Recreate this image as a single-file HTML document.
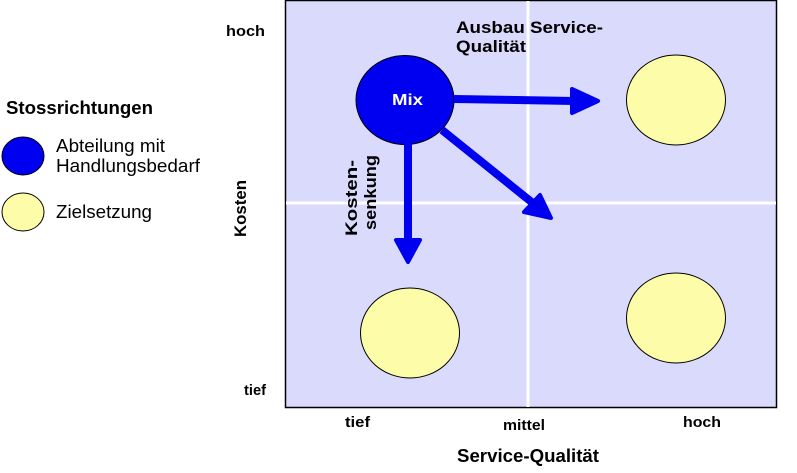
<!DOCTYPE html>
<html><head><meta charset="utf-8"><style>
html,body{margin:0;padding:0;background:#fff;width:797px;height:473px;overflow:hidden}
svg{display:block}
text{font-family:"Liberation Sans",Arial,sans-serif;font-weight:bold;fill:#000}
</style></head><body>
<svg width="797" height="473" viewBox="0 0 797 473">
<rect x="285.5" y="0.5" width="491" height="407" fill="#dadafc" stroke="#000" stroke-width="1.5"/>
<line x1="528" y1="1" x2="528" y2="407" stroke="#fff" stroke-width="3"/>
<line x1="286" y1="203" x2="776" y2="203" stroke="#fff" stroke-width="3"/>
<ellipse cx="676" cy="100" rx="49.5" ry="45" fill="#fdfca8" stroke="#000"/>
<ellipse cx="410" cy="333" rx="49.5" ry="45" fill="#fdfca8" stroke="#000"/>
<ellipse cx="676" cy="318" rx="49.5" ry="45" fill="#fdfca8" stroke="#000"/>
<ellipse cx="405" cy="100" rx="49" ry="44.5" fill="#0000f0" stroke="#000"/>
<text x="392" y="105" font-size="16" textLength="31" lengthAdjust="spacingAndGlyphs" style="fill:#fff">Mix</text>
<g fill="#0000f0" stroke="#0000f0" stroke-linejoin="round">
<line x1="454" y1="99" x2="575" y2="101" stroke-width="8"/>
<polygon points="572,89 598,101 572,113" stroke-width="4"/>
<line x1="408" y1="140" x2="408" y2="242" stroke-width="8"/>
<polygon points="396,240 420,240 408,262" stroke-width="4"/>
<line x1="442" y1="130" x2="534" y2="204" stroke-width="8"/>
<polygon points="524,212 540,195 551,218" stroke-width="4"/>
</g>
<text x="456" y="33" font-size="17" textLength="147" lengthAdjust="spacingAndGlyphs">Ausbau Service-</text>
<text x="456" y="52" font-size="17" textLength="70" lengthAdjust="spacingAndGlyphs">Qualität</text>
<text transform="translate(357,236) rotate(-90)" font-size="17" textLength="76" lengthAdjust="spacingAndGlyphs">Kosten-</text>
<text transform="translate(376,230) rotate(-90)" font-size="17" textLength="75" lengthAdjust="spacingAndGlyphs">senkung</text>
<text x="226" y="36" font-size="15" textLength="39" lengthAdjust="spacingAndGlyphs">hoch</text>
<text x="244" y="395" font-size="15" textLength="22" lengthAdjust="spacingAndGlyphs">tief</text>
<text transform="translate(246,237) rotate(-90)" font-size="17" textLength="57" lengthAdjust="spacingAndGlyphs">Kosten</text>
<text x="345" y="427" font-size="15" textLength="25" lengthAdjust="spacingAndGlyphs">tief</text>
<text x="503" y="430" font-size="15" textLength="42" lengthAdjust="spacingAndGlyphs">mittel</text>
<text x="683" y="427" font-size="15" textLength="38" lengthAdjust="spacingAndGlyphs">hoch</text>
<text x="457" y="462" font-size="18" textLength="142" lengthAdjust="spacingAndGlyphs">Service-Qualität</text>
<text x="6" y="114" font-size="18" textLength="147" lengthAdjust="spacingAndGlyphs">Stossrichtungen</text>
<ellipse cx="23" cy="156" rx="21" ry="19" fill="#0000f0" stroke="#000"/>
<ellipse cx="23" cy="212" rx="21" ry="19" fill="#fdfca8" stroke="#000"/>
<text x="56" y="152" font-size="18" textLength="109" lengthAdjust="spacingAndGlyphs" style="font-weight:normal">Abteilung mit</text>
<text x="56" y="172" font-size="18" textLength="144" lengthAdjust="spacingAndGlyphs" style="font-weight:normal">Handlungsbedarf</text>
<text x="56" y="218" font-size="18" textLength="96" lengthAdjust="spacingAndGlyphs" style="font-weight:normal">Zielsetzung</text>
</svg>
</body></html>
